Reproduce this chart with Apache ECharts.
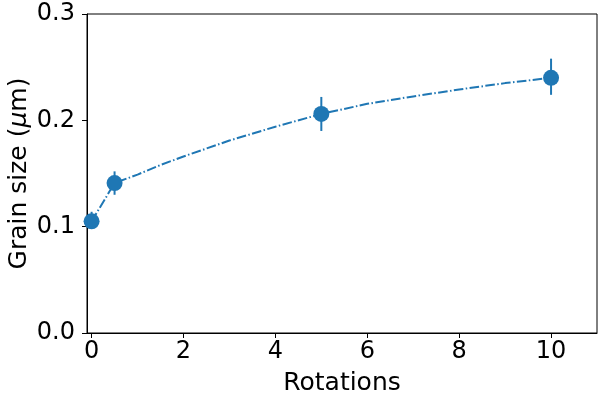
<!DOCTYPE html>
<html>
<head>
<meta charset="utf-8">
<script src="https://cdn.jsdelivr.net/npm/echarts@6/dist/echarts.min.js"></script>
<style>html,body{margin:0;padding:0;background:#fff}#c{width:600px;height:400px}</style>
</head>
<body>
<div id="c"></div>
<script>
// Measured points
const rotations = [0, 0.5, 5, 10];
const grainSize = [0.105, 0.141, 0.206, 0.240];
const errLow = [0.099, 0.130, 0.190, 0.224];
const errHigh = [0.114, 0.152, 0.222, 0.258];
// Fit curve
const fitX = [0, 0.5, 1, 1.5, 2, 3, 4, 5, 6, 7, 8, 9, 10];
const fitY = [0.105, 0.141, 0.149, 0.158, 0.166, 0.181, 0.194, 0.206, 0.2155, 0.2225, 0.229, 0.235, 0.240];
const xTicks = [0, 2, 4, 6, 8, 10];

const color = '#1f77b4';
const font = 'DejaVu Sans';

const chart = echarts.init(document.getElementById('c'), null, {renderer: 'canvas'});
chart.setOption({
  animation: false,
  grid: {left: 87, right: 3, top: 14, bottom: 67, containLabel: false, outerBoundsMode: 'none',
         show: true, borderColor: '#000', borderWidth: 1, backgroundColor: 'transparent'},
  xAxis: {
    type: 'value', min: -0.1, max: 11,
    name: 'Rotations', nameLocation: 'middle', nameGap: 38, nameMoveOverlap: false,
    nameTextStyle: {fontFamily: font, fontSize: 25, color: '#000'},
    axisLine: {show: true, onZero: false, lineStyle: {color: '#000', width: 1}},
    axisTick: {show: true, inside: false, length: 5, customValues: xTicks, lineStyle: {color: '#000'}},
    axisLabel: {customValues: xTicks, fontFamily: font, fontSize: 24, color: '#000', margin: 7},
    splitLine: {show: false}
  },
  yAxis: {
    type: 'value', min: 0, max: 0.3, interval: 0.1,
    name: 'Grain size ({it|μ}m)', nameLocation: 'middle', nameGap: 55, nameRotate: 90, nameMoveOverlap: false,
    nameTextStyle: {fontFamily: font, fontSize: 25, color: '#000', rich: {it: {fontFamily: font, fontSize: 25, fontStyle: 'italic', color: '#000'}}},
    axisLine: {show: true, onZero: false, lineStyle: {color: '#000', width: 1}},
    axisTick: {show: true, inside: false, length: 5, lineStyle: {color: '#000'}},
    axisLabel: {fontFamily: font, fontSize: 24, color: '#000', margin: 12, formatter: v => v.toFixed(1)},
    splitLine: {show: false}
  },
  series: [
    {
      type: 'line', data: fitX.map((x, i) => [x, fitY[i]]),
      smooth: false, showSymbol: false, symbol: 'none',
      lineStyle: {color: color, width: 2, type: [9.6, 2.4, 1.5, 2.4]}, z: 2
    },
    {
      type: 'custom',
      data: rotations.map((x, i) => [x, errLow[i], errHigh[i]]),
      renderItem: function (params, api) {
        const p1 = api.coord([api.value(0), api.value(1)]);
        const p2 = api.coord([api.value(0), api.value(2)]);
        return {type: 'line', shape: {x1: p1[0], y1: p1[1], x2: p2[0], y2: p2[1]}, style: {stroke: color, lineWidth: 2}};
      }, z: 3
    },
    {
      type: 'scatter', data: rotations.map((x, i) => [x, grainSize[i]]),
      symbol: 'circle', symbolSize: 16, itemStyle: {color: color, opacity: 1}, z: 4
    }
  ]
});
</script>
</body>
</html>
